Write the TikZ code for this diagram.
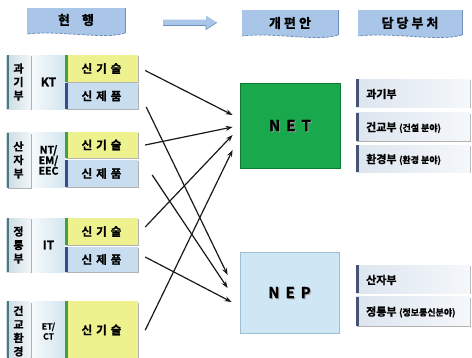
\documentclass[tikz,border=0pt]{standalone}
\usepackage{fontspec}
\setmainfont{Noto Sans CJK KR}[BoldFont={Noto Sans CJK KR Bold},BoldFeatures={FakeBold=1.2}]
\usetikzlibrary{shadows,arrows.meta,calc}
\definecolor{hdr}{HTML}{A9C6E8}
\definecolor{hdrdk}{HTML}{6F8FB8}
\definecolor{labbar}{HTML}{4C7884}
\definecolor{labA}{HTML}{CBDCE4}
\definecolor{labB}{HTML}{F1F6F8}
\definecolor{midA}{HTML}{F6FAFC}
\definecolor{midB}{HTML}{D3E5F0}
\definecolor{techfill}{HTML}{EEF28E}
\definecolor{techbar}{HTML}{3FA33A}
\definecolor{prodfill}{HTML}{C8DDF0}
\definecolor{prodbar}{HTML}{3A4A8E}
\definecolor{netfill}{HTML}{1AA84C}
\definecolor{netdk}{HTML}{0E7A34}
\definecolor{nepfill}{HTML}{CFE6F4}
\definecolor{nepdk}{HTML}{9DBFD6}
\definecolor{rA}{HTML}{DCE5EF}
\definecolor{rB}{HTML}{F5F8FB}
\definecolor{rbar}{HTML}{46546F}
\newcommand\sg{\hspace{4pt}}
\begin{document}
\begin{tikzpicture}[x=1pt,y=-1pt,
  lbar/.style={path picture={\fill[#1] (path picture bounding box.north west) rectangle ([xshift=2.6pt]path picture bounding box.south west);}},
  shd/.style={drop shadow={shadow xshift=1.2pt,shadow yshift=-1.4pt,fill=black!55,opacity=0.55}},
  labbox/.style={inner sep=0pt,minimum width=24pt,left color=labA,right color=labB,lbar=labbar,shd,align=center,font=\fontsize{11}{13.5}\selectfont\bfseries},
  midbox/.style={inner sep=0pt,minimum width=33pt,left color=midA,right color=midB,align=center,font=\fontsize{12}{13}\selectfont\bfseries},
  tech/.style={inner sep=0pt,minimum width=73pt,fill=techfill,lbar=techbar,shd,font=\fontsize{11.5}{13}\selectfont\bfseries},
  prod/.style={inner sep=0pt,minimum width=73pt,fill=prodfill,lbar=prodbar,shd,font=\fontsize{11.5}{13}\selectfont\bfseries},
  rbox/.style={inner sep=0pt,minimum width=114pt,left color=rA,right color=rB,lbar=rbar,shd},
  rtxt/.style={anchor=west,inner sep=0pt,font=\fontsize{11}{13}\selectfont\bfseries},
  hdrtxt/.style={inner sep=0pt,font=\fontsize{13}{15}\selectfont\bfseries},
  bigtxt/.style={font=\fontsize{15}{17}\selectfont\bfseries},
  conn/.style={line width=1.2pt,color=black!90,-{Stealth[length=7pt,width=5pt]}}
]
\useasboundingbox (0,0) rectangle (472,357);

% header shapes
\fill[hdr] (27,8) -- (125,8) -- (125,33) .. controls (105,40) and (60,30) .. (27,34) -- cycle;
\draw[hdrdk,line width=0.8pt,dash pattern=on 3pt off 1.5pt] (125,33) .. controls (105,40) and (60,30) .. (27,34);
\draw[hdrdk,line width=0.8pt] (125,8) -- (125,33);
\node[hdrtxt] (h1) at (76,20) {현\hspace{12pt}행};

\fill[hdr] (163,19.5) -- (206,19.5) -- (206,15.5) -- (217,22.5) -- (206,29.5) -- (206,25.5) -- (163,25.5) -- cycle;
\draw[hdrdk,line width=0.6pt] (163,25.5) -- (206,25.5) -- (206,29.5) -- (217,22.5);

\fill[hdr] (242,10) -- (338,10) -- (338,35) .. controls (318,42) and (275,32) .. (242,36) -- cycle;
\draw[hdrdk,line width=0.8pt,dash pattern=on 3pt off 1.5pt] (338,35) .. controls (318,42) and (275,32) .. (242,36);
\draw[hdrdk,line width=0.8pt] (338,10) -- (338,35);
\node[hdrtxt] (h2) at (290,23) {개\hspace{3pt}편\hspace{3pt}안};

\fill[hdr] (358,10) -- (462,10) -- (462,35) .. controls (440,42) and (395,32) .. (358,36) -- cycle;
\draw[hdrdk,line width=0.8pt,dash pattern=on 3pt off 1.5pt] (462,35) .. controls (440,42) and (395,32) .. (358,36);
\draw[hdrdk,line width=0.8pt] (462,10) -- (462,35);
\node[hdrtxt] (h3) at (410,23) {담\hspace{3pt}당\hspace{3pt}부\hspace{3pt}처};

% group 1
\node[labbox,minimum height=54pt] (L1) at (18.5,82) {과\\기\\부};
\node[midbox,minimum height=54pt] (M1) at (48.5,82) {KT};
\node[tech,minimum height=27pt] (t1) at (101.5,68.5) {신\sg 기\sg 술};
\node[prod,minimum height=26pt] (p1) at (101.5,96) {신\sg 제\sg 품};

% group 2
\node[labbox,minimum height=55pt] (L2) at (18.5,160) {산\\자\\부};
\node[midbox,minimum height=55pt,font=\fontsize{10.5}{10.5}\selectfont\bfseries] (M2) at (48.5,160) {NT/\\EM/\\EEC};
\node[tech,minimum height=26pt] (t2) at (101.5,145) {신\sg 기\sg 술};
\node[prod,minimum height=27pt] (p2) at (101.5,173.5) {신\sg 제\sg 품};

% group 3
\node[labbox,minimum height=54pt] (L3) at (18.5,245) {정\\통\\부};
\node[midbox,minimum height=54pt] (M3) at (48.5,245) {IT};
\node[tech,minimum height=27pt] (t3) at (101.5,231.5) {신\sg 기\sg 술};
\node[prod,minimum height=25pt] (p3) at (101.5,259.5) {신\sg 제\sg 품};

% group 4
\node[labbox,minimum height=60pt,anchor=north] (L4) at (18.5,301) {건\\교\\환\\경};
\node[midbox,minimum height=60pt,anchor=north,font=\fontsize{8.5}{10}\selectfont\bfseries] (M4) at (48.5,301) {ET/\\CT};
\node[tech,minimum height=60pt,anchor=north] (t4) at (101.5,301) {};
\node[inner sep=0pt,font=\fontsize{11.5}{13}\selectfont\bfseries] (t4t) at (101.5,330) {신\sg 기\sg 술};

% NET / NEP
\node[draw=netdk,line width=0.8pt,fill=netfill,minimum width=100pt,minimum height=85pt,shd] (NET) at (290,125.5) {};
\node[text=black!40,bigtxt] (NETs) at (291,126.5) {N\hspace{6pt}E\hspace{6pt}T};
\node[bigtxt] (NETt) at (290,125.5) {N\hspace{6pt}E\hspace{6pt}T};
\node[draw=nepdk,line width=0.8pt,fill=nepfill,minimum width=99pt,minimum height=81pt,shd] (NEP) at (289.5,292.5) {};
\node[text=black!35,bigtxt] (NEPs) at (290.5,293.5) {N\hspace{6pt}E\hspace{6pt}P};
\node[bigtxt] (NEPt) at (289.5,292.5) {N\hspace{6pt}E\hspace{6pt}P};

% right column
\node[rbox,minimum height=28pt] (R1) at (413,93) {};
\node[rtxt] (R1t) at (366,94) {과기부};
\node[rbox,minimum height=28pt] (R2) at (413,126.5) {};
\node[rtxt] (R2t) at (366,127.5) {건교부 {\small(건설 분야)}};
\node[rbox,minimum height=27pt] (R3) at (413,158.5) {};
\node[rtxt] (R3t) at (366,159.5) {환경부 {\small(환경 분야)}};
\node[rbox,minimum height=28pt] (R4) at (413,279) {};
\node[rtxt] (R4t) at (366,280) {산자부};
\node[rbox,minimum height=29pt] (R5) at (413,311) {};
\node[rtxt] (R5t) at (366,312) {정통부 {\small(정보통신분야)}};

% connectors
\draw[conn] ($(t1.east)+(7,2)$) -- ($(NET.west)+(-7,-10.5)$);
\draw[conn] ($(p1.east)+(8,11)$) -- ($(NEP.west)+(-12,-17.5)$);
\draw[conn] ($(t2.east)+(7,0)$) -- ($(NET.west)+(-7,1.5)$);
\draw[conn] ($(p2.east)+(14,1.5)$) -- ($(NEP.west)+(-12,-4.5)$);
\draw[conn] ($(t3.east)+(7,-4.5)$) -- ($(NET.west)+(-7,9.5)$);
\draw[conn] ($(p3.east)+(7,-2.5)$) -- ($(NEP.west)+(-8,9.5)$);
\draw[conn] ($(t4.east)+(7,-1)$) -- ($(NET.west)+(-7,24.5)$);
\end{tikzpicture}
\end{document}
